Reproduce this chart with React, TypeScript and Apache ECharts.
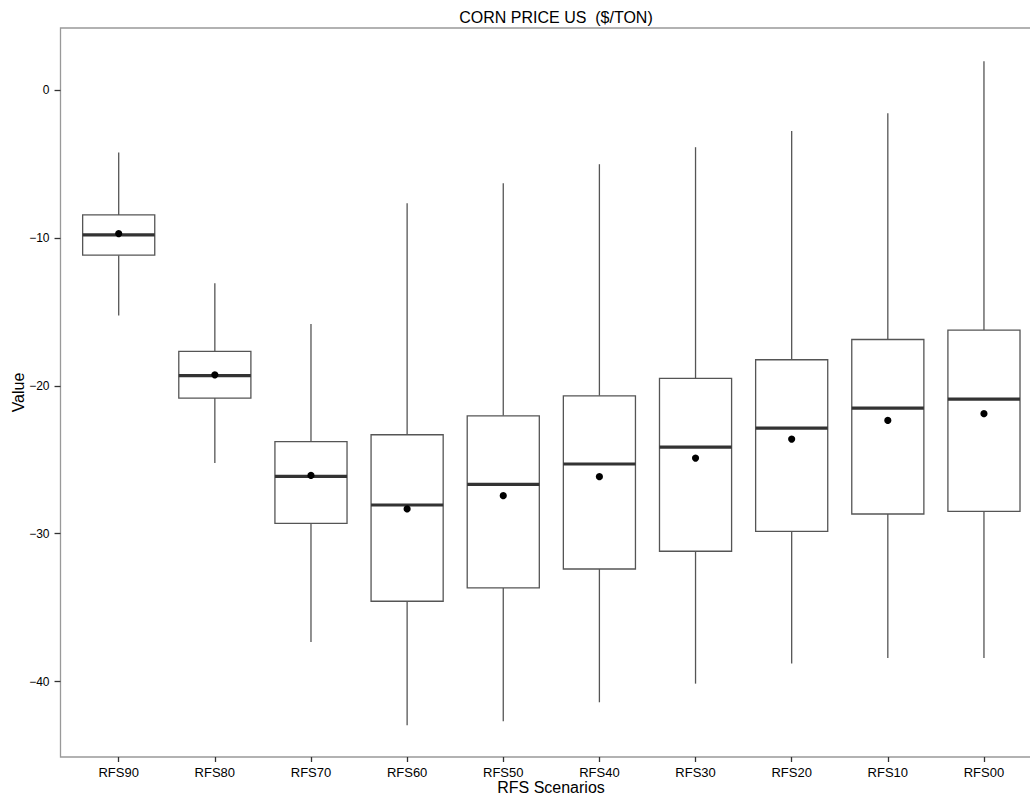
import React, { useEffect, useRef } from "react";
import * as echarts from "echarts";

const categories = ["RFS90", "RFS80", "RFS70", "RFS60", "RFS50", "RFS40", "RFS30", "RFS20", "RFS10", "RFS00"];
const whiskerHigh = [-4.23, -13.06, -15.83, -7.66, -6.31, -5.02, -3.87, -2.77, -1.58, 1.94];
const q3 = [-8.45, -17.68, -23.78, -23.31, -22.03, -20.68, -19.5, -18.24, -16.87, -16.24];
const medians = [-9.8, -19.32, -26.13, -28.06, -26.67, -25.29, -24.15, -22.86, -21.51, -20.9];
const means = [-9.71, -19.26, -26.06, -28.33, -27.43, -26.15, -24.89, -23.6, -22.34, -21.89];
const q1 = [-11.17, -20.83, -29.3, -34.57, -33.67, -32.39, -31.19, -29.84, -28.67, -28.49];
const whiskerLow = [-15.25, -25.23, -37.32, -42.95, -42.68, -41.4, -40.14, -38.78, -38.4, -38.4];
const yTicks = [0, -10, -20, -30, -40];

const FONT = "'Liberation Sans', Arial, sans-serif";

export default function App() {
  const ref = useRef<HTMLDivElement>(null);
  useEffect(() => {
    if (!ref.current) return;
    const chart = echarts.init(ref.current, null, { renderer: "svg" });
    const data = categories.map((_, i) => [i, whiskerLow[i], q1[i], medians[i], q3[i], whiskerHigh[i], means[i]]);
    chart.setOption({
      animation: false,
      backgroundColor: "#fff",
      title: {
        text: "CORN PRICE US  ($/TON)",
        left: 551,
        top: 4,
        textAlign: "center",
        textStyle: { fontFamily: FONT, fontSize: 16, fontWeight: "normal", color: "#000" },
      },
      grid: { left: 70.63, top: 28, width: 961.4, height: 729, containLabel: false, outerBoundsMode: "none" },
      xAxis: {
        type: "category",
        data: categories,
        boundaryGap: true,
        axisLine: { show: false, onZero: false },
        axisTick: { show: true, alignWithLabel: true, length: 5, lineStyle: { color: "#333", width: 1.3 } },
        axisLabel: { fontFamily: FONT, fontSize: 13, color: "#000", margin: 9 },
        splitLine: { show: false },
      },
      yAxis: {
        type: "value",
        min: -45.1,
        max: 4.19,
        offset: 10.1,
        axisLine: { show: false, onZero: false },
        axisTick: { show: true, customValues: yTicks, length: 6, lineStyle: { color: "#333", width: 1.3 } },
        axisLabel: {
          customValues: yTicks,
          fontFamily: FONT,
          fontSize: 12,
          color: "#000",
          margin: 11,
          formatter: (v: number) => String(v).replace("-", "\u2212"),
        },
        splitLine: { show: false },
      },
      graphic: [
        {
          type: "rect",
          z: -1,
          shape: { x: 60.5, y: 28, width: 1000, height: 729 },
          style: { fill: "none", stroke: "#999", lineWidth: 1.3 },
        },
        {
          type: "text",
          x: 551,
          y: 787,
          style: {
            text: "RFS Scenarios",
            fontFamily: FONT,
            fontSize: 16,
            fill: "#000",
            align: "center",
            verticalAlign: "middle",
          },
        },
        {
          type: "text",
          x: 18,
          y: 392.5,
          rotation: Math.PI / 2,
          style: {
            text: "Value",
            fontFamily: FONT,
            fontSize: 16,
            fill: "#000",
            align: "center",
            verticalAlign: "middle",
          },
        },
      ],
      series: [
        {
          type: "custom",
          data,
          encode: { x: 0, y: [1, 2, 3, 4, 5, 6] },
          renderItem: (params: any, api: any) => {
            const i = api.value(0);
            const x = api.coord([i, 0])[0];
            const bw = api.size([1, 0])[0] * 0.75;
            const yLow = api.coord([i, api.value(1)])[1];
            const yQ1 = api.coord([i, api.value(2)])[1];
            const yMed = api.coord([i, api.value(3)])[1];
            const yQ3 = api.coord([i, api.value(4)])[1];
            const yHigh = api.coord([i, api.value(5)])[1];
            const yMean = api.coord([i, api.value(6)])[1];
            const stroke = { stroke: "#555", lineWidth: 1.3 };
            return {
              type: "group",
              children: [
                { type: "line", shape: { x1: x, y1: yHigh, x2: x, y2: yQ3 }, style: stroke },
                { type: "line", shape: { x1: x, y1: yQ1, x2: x, y2: yLow }, style: stroke },
                {
                  type: "rect",
                  shape: { x: x - bw / 2, y: yQ3, width: bw, height: yQ1 - yQ3 },
                  style: { fill: "#fff", stroke: "#555", lineWidth: 1.3 },
                },
                {
                  type: "line",
                  shape: { x1: x - bw / 2, y1: yMed, x2: x + bw / 2, y2: yMed },
                  style: { stroke: "#333", lineWidth: 3.2 },
                },
                { type: "circle", shape: { cx: x, cy: yMean, r: 3.6 }, style: { fill: "#000" } },
              ],
            };
          },
        },
      ],
    });
    return () => chart.dispose();
  }, []);
  return <div ref={ref} style={{ position: "absolute", left: 0, top: 0, width: 1030, height: 798 }} />;
}
